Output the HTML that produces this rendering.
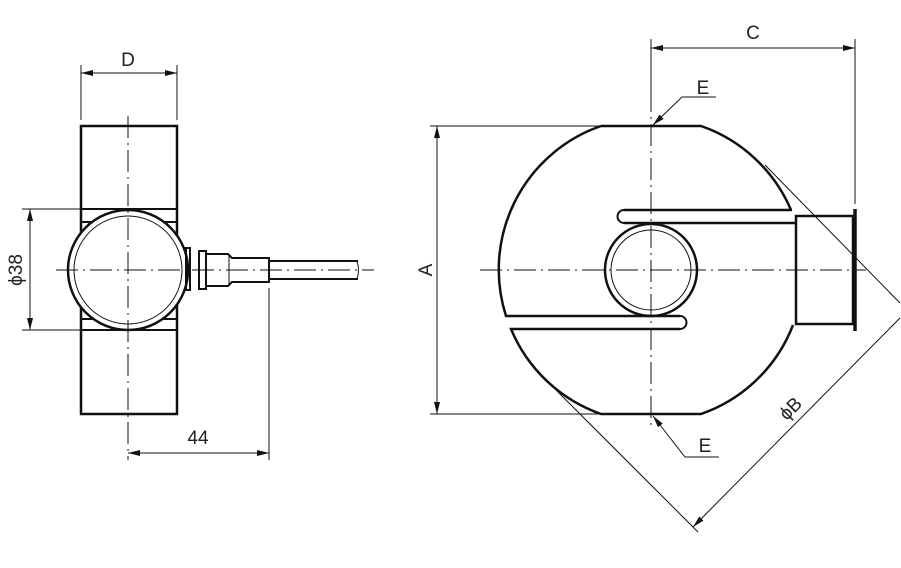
<!DOCTYPE html>
<html><head><meta charset="utf-8"><style>
html,body{margin:0;padding:0;background:#fff}
svg{display:block}
text{font-family:"Liberation Sans",sans-serif;font-size:19px;fill:#222}
</style></head><body>
<svg width="901" height="568" viewBox="0 0 901 568" xmlns="http://www.w3.org/2000/svg">
<defs>
<marker id="ar" viewBox="0 0 12 6" refX="12" refY="3" markerWidth="12" markerHeight="6" orient="auto-start-reverse" markerUnits="userSpaceOnUse"><path d="M0,0 L12,3 L0,6 z" fill="#111"/></marker>
</defs>
<g fill="none" stroke="#111">
<!-- LEFT VIEW -->
<rect x="81" y="126" width="96" height="288" stroke-width="2.5"/>
<line x1="81" y1="209" x2="177" y2="209" stroke-width="2"/>
<line x1="81" y1="330" x2="177" y2="330" stroke-width="2"/>
<line x1="81" y1="222" x2="177" y2="222" stroke-width="2"/>
<line x1="81" y1="319" x2="177" y2="319" stroke-width="2"/>
<circle cx="128" cy="270" r="60" fill="#fff" stroke-width="2.5"/>
<circle cx="128" cy="270" r="54" stroke-width="1"/>
<rect x="186" y="248" width="4" height="42" stroke-width="2"/>
<rect x="199" y="251" width="7" height="38" stroke-width="2"/>
<path d="M206,254 L228,254 L232,258 L269,258 L269,282 L232,282 L228,286 L206,286 z" stroke-width="2"/>
<line x1="229" y1="256" x2="229" y2="284" stroke-width="1"/>
<line x1="270" y1="261" x2="358" y2="261" stroke-width="2"/>
<line x1="270" y1="279" x2="358" y2="279" stroke-width="2"/>
<path d="M357,261 Q360,270 357,279" stroke-width="1"/>
<!-- centerlines left -->
<line x1="128" y1="116" x2="128" y2="460" stroke-width="1" stroke-dasharray="22,5,2,5"/>
<line x1="56" y1="270" x2="374" y2="270" stroke-width="1" stroke-dasharray="22,5,2,5"/>
<!-- dims left -->
<line x1="81" y1="65" x2="81" y2="120" stroke-width="1"/>
<line x1="177" y1="65" x2="177" y2="120" stroke-width="1"/>
<line x1="81" y1="73" x2="177" y2="73" stroke-width="1" marker-start="url(#ar)" marker-end="url(#ar)"/>
<line x1="22" y1="209" x2="81" y2="209" stroke-width="1"/>
<line x1="22" y1="330" x2="81" y2="330" stroke-width="1"/>
<line x1="30" y1="209" x2="30" y2="330" stroke-width="1" marker-start="url(#ar)" marker-end="url(#ar)"/>
<line x1="269" y1="288" x2="269" y2="460" stroke-width="1"/>
<line x1="128" y1="453" x2="269" y2="453" stroke-width="1" marker-start="url(#ar)" marker-end="url(#ar)"/>

<!-- RIGHT VIEW -->
<path d="M601,126 L701,126 A152,152 0 0 1 791,210 L792,210 L624,210" stroke-width="2.5"/>
<path d="M624,223 L796,223" stroke-width="2.5"/>
<path d="M624,210 A6.5,6.5 0 0 0 624,223" stroke-width="2"/>
<path d="M793,325 A152,152 0 0 1 701,414 L601,414 A152,152 0 0 1 511,329 L680,329" stroke-width="2.5"/>
<path d="M680,316 L506,316 A152,152 0 0 1 601,126" stroke-width="2.5"/>
<path d="M680,316 A6.5,6.5 0 0 1 680,329" stroke-width="2"/>
<circle cx="651" cy="270" r="46" stroke-width="2.5"/>
<circle cx="651" cy="270" r="40" stroke-width="1"/>
<rect x="796" y="216" width="57" height="108" fill="#fff" stroke-width="2.5"/>
<line x1="855" y1="209" x2="855" y2="331" stroke-width="3.5"/>
<!-- centerlines right -->
<line x1="651" y1="90" x2="651" y2="430" stroke-width="1" stroke-dasharray="22,5,2,5"/>
<line x1="480" y1="270" x2="866" y2="270" stroke-width="1" stroke-dasharray="22,5,2,5"/>
<!-- A -->
<line x1="430" y1="126" x2="601" y2="126" stroke-width="1"/>
<line x1="430" y1="414" x2="601" y2="414" stroke-width="1"/>
<line x1="437" y1="126" x2="437" y2="414" stroke-width="1" marker-start="url(#ar)" marker-end="url(#ar)"/>
<!-- C -->
<line x1="651" y1="39" x2="651" y2="110" stroke-width="1"/>
<line x1="855" y1="39" x2="855" y2="204" stroke-width="1"/>
<line x1="651" y1="48" x2="855" y2="48" stroke-width="1" marker-start="url(#ar)" marker-end="url(#ar)"/>
<!-- E leaders -->
<path d="M716,97 L682,97 L653,125" stroke-width="1" marker-end="url(#ar)"/>
<path d="M719,457 L685,457 L653,416" stroke-width="1" marker-end="url(#ar)"/>
<!-- phiB -->
<line x1="765" y1="165" x2="900" y2="303" stroke-width="1"/>
<line x1="556" y1="390" x2="698" y2="532" stroke-width="1"/>
<line x1="693" y1="527" x2="900" y2="318" stroke-width="1" marker-start="url(#ar)"/>
</g>
<text x="128" y="66" text-anchor="middle" transform="scale(1,1)">D</text>
<text x="0" y="0" text-anchor="middle" transform="translate(22,270) rotate(-90)">ϕ38</text>
<text x="198" y="444" text-anchor="middle">44</text>
<text x="0" y="0" text-anchor="middle" transform="translate(432,270) rotate(-90)">A</text>
<text x="753" y="39" text-anchor="middle">C</text>
<text x="703" y="94" text-anchor="middle">E</text>
<text x="705" y="452" text-anchor="middle">E</text>
<text x="0" y="0" text-anchor="middle" transform="translate(795,413) rotate(-45)">ϕB</text>
</svg>
</body></html>
